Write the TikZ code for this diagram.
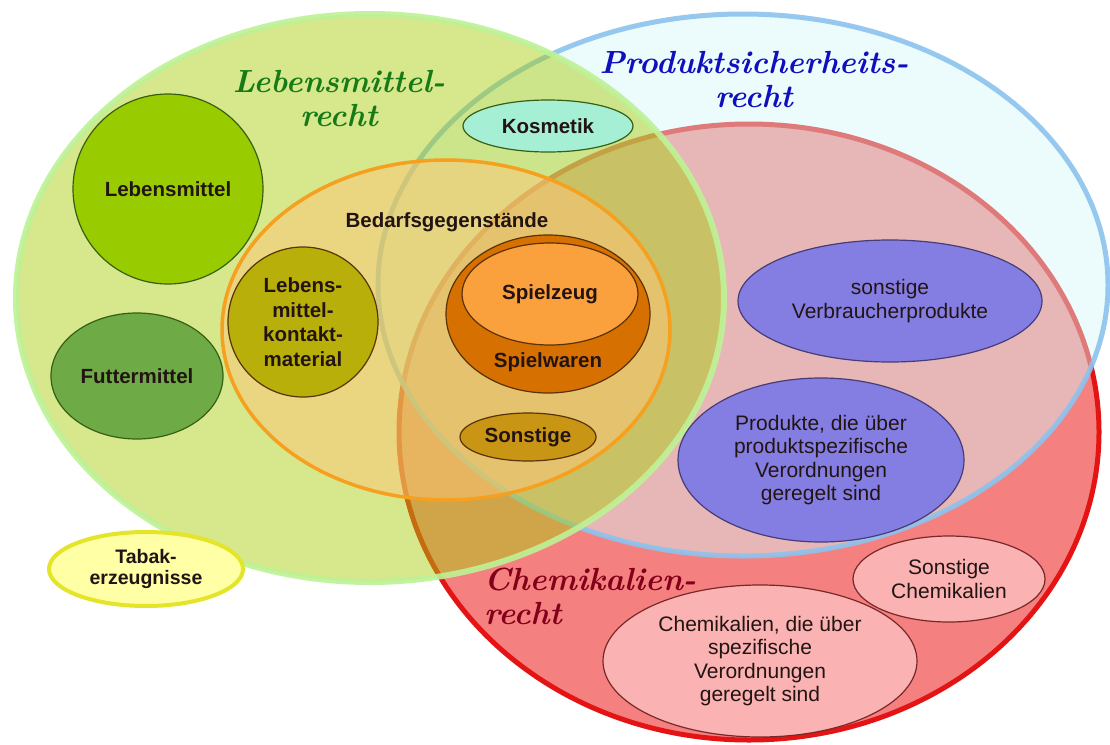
\documentclass[tikz,border=0pt]{standalone}
\usepackage{fontspec}
\newfontfamily\arialf{Liberation Sans}
\usetikzlibrary{shapes.geometric}
\definecolor{redfill}{RGB}{245,128,128}
\definecolor{redline}{RGB}{228,20,20}
\definecolor{bluefill}{RGB}{215,248,248}
\definecolor{blueline}{RGB}{140,195,238}
\definecolor{greenfill}{RGB}{168,206,11}
\definecolor{greenline}{RGB}{190,242,150}
\definecolor{orangefill}{RGB}{255,196,120}
\definecolor{orangeline}{RGB}{245,160,30}
\definecolor{lmfill}{RGB}{153,204,0}
\definecolor{ftfill}{RGB}{110,170,70}
\definecolor{kmfill}{RGB}{185,175,10}
\definecolor{swfill}{RGB}{214,112,0}
\definecolor{szfill}{RGB}{250,160,60}
\definecolor{sofill}{RGB}{200,150,20}
\definecolor{kofill}{RGB}{165,240,212}
\definecolor{vpfill}{RGB}{132,126,226}
\definecolor{chfill}{RGB}{250,178,178}
\definecolor{tbfill}{RGB}{255,255,165}
\definecolor{tbline}{RGB}{228,228,40}
\definecolor{darkgreenline}{RGB}{55,95,20}
\definecolor{darkbrown}{RGB}{90,50,10}
\definecolor{darkpurple}{RGB}{70,60,120}
\definecolor{darkred}{RGB}{120,40,40}
\definecolor{txt}{RGB}{35,20,20}
\definecolor{ttlgreen}{RGB}{22,122,22}
\definecolor{ttlblue}{RGB}{15,15,190}
\definecolor{ttlred}{RGB}{130,0,25}
\begin{document}
\begin{tikzpicture}[x=1pt,y=-1pt,
  region/.style={ellipse, inner sep=0pt, outer sep=0pt},
  bubble/.style={ellipse, inner sep=0pt, outer sep=0pt, line width=1.2pt, text=txt, align=center},
  boldtxt/.style={font=\arialf\bfseries\fontsize{20.5}{24.5}\selectfont},
  regtxt/.style={font=\arialf\fontsize{21}{23.5}\selectfont},
  ttl/.style={font=\bfseries\itshape\fontsize{32}{34}\selectfont, inner sep=0pt}
]
\useasboundingbox (0,0) rectangle (1110,744);
\fill[white] (0,0) rectangle (1110,744);

% big regions
\node[region, minimum width=700pt, minimum height=616pt, fill=redfill, draw=redline, line width=5pt] (chem) at (749,432) {};
\node[region, minimum width=730pt, minimum height=542pt, fill=bluefill, fill opacity=.45, draw=blueline, draw opacity=.9, line width=5pt] (prod) at (743,285) {};
\node[region, minimum width=708pt, minimum height=568pt, fill=greenfill, fill opacity=.47, draw=greenline, draw opacity=.9, line width=6pt] (leb) at (370,298) {};
\node[region, minimum width=448pt, minimum height=340pt, fill=orangefill, fill opacity=.5, draw=orangeline, line width=3.5pt] (bed) at (446,330) {};

% titles
\node[ttl, text=ttlgreen, align=center] (tleb) at (339,99) {Lebensmittel-\\recht};
\node[ttl, text=ttlblue, align=center] (tprod) at (754,80) {Produktsicherheits-\\recht};
\node[ttl, text=ttlred, align=left, anchor=west] (tchem) at (484,596) {Chemikalien-\\recht};

% Lebensmittelrecht bubbles
\node[bubble, boldtxt, fill=lmfill, draw=darkgreenline, minimum width=190pt, minimum height=190pt] (lm) at (168,189) {Lebensmittel};
\node[bubble, boldtxt, fill=ftfill, draw=darkgreenline, minimum width=172pt, minimum height=126pt] (ft) at (137,376) {Futtermittel};
\node[boldtxt, text=txt] (bedt) at (447,222) {Bedarfsgegenstände};
\node[bubble, boldtxt, fill=kmfill, draw=darkbrown, minimum width=150pt, minimum height=150pt] (km) at (303,322) {Lebens-\\mittel-\\kontakt-\\material};
\node[bubble, fill=swfill, draw=darkbrown, minimum width=204pt, minimum height=158pt] (sw) at (548,314) {};
\node[bubble, boldtxt, fill=szfill, draw=darkbrown, minimum width=176pt, minimum height=102pt] (sz) at (550,294) {Spielzeug};
\node[boldtxt, text=txt] (swt) at (548,362) {Spielwaren};
\node[bubble, boldtxt, fill=sofill, draw=darkbrown, minimum width=136pt, minimum height=48pt] (so) at (528,437) {Sonstige};
\node[bubble, boldtxt, fill=kofill, draw=darkgreenline, minimum width=170pt, minimum height=52pt] (ko) at (548,126) {Kosmetik};

% Produktsicherheitsrecht bubbles
\node[bubble, regtxt, fill=vpfill, draw=darkpurple, minimum width=304pt, minimum height=122pt] (vp) at (890,301) {sonstige\\Verbraucherprodukte};
\node[bubble, regtxt, fill=vpfill, draw=darkpurple, minimum width=286pt, minimum height=164pt] (pp) at (821,460) {Produkte, die über\\produktspezifische\\Verordnungen\\geregelt sind};

% Chemikalienrecht bubbles
\node[bubble, regtxt, fill=chfill, draw=darkred, minimum width=192pt, minimum height=86pt] (sc) at (949,579) {Sonstige\\Chemikalien};
\node[bubble, regtxt, fill=chfill, draw=darkred, minimum width=314pt, minimum height=152pt] (cv) at (760,661) {Chemikalien, die über\\spezifische\\Verordnungen\\geregelt sind};

% Tabak
\node[bubble, font=\arialf\bfseries\fontsize{19.5}{21}\selectfont, fill=tbfill, draw=tbline, line width=4pt, minimum width=194pt, minimum height=74pt] (tb) at (146,569) {Tabak-\\erzeugnisse};
\end{tikzpicture}
\end{document}
